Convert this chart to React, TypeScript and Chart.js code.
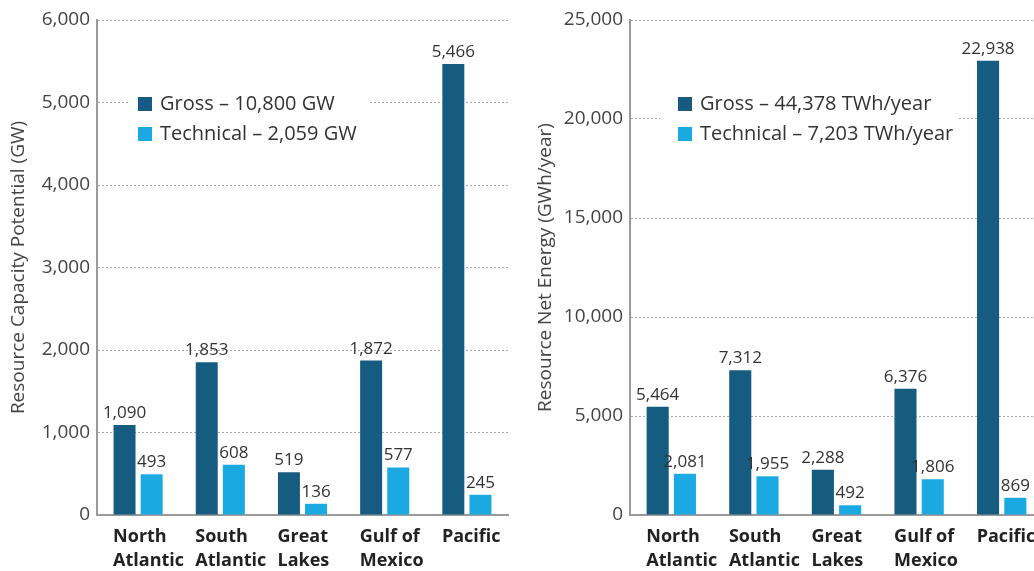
import React, { useEffect, useRef } from 'react';
import { Chart, registerables } from 'chart.js';

Chart.register(...registerables);

const FONT = '"Open Sans", "DejaVu Sans", sans-serif';

const categories: string[][] = [
  ['North', 'Atlantic'],
  ['South', 'Atlantic'],
  ['Great', 'Lakes'],
  ['Gulf of', 'Mexico'],
  ['Pacific'],
];

const capacityGross = [1090, 1853, 519, 1872, 5466];
const capacityTechnical = [493, 608, 136, 577, 245];
const capacityLegend = ['Gross \u2013 10,800 GW', 'Technical \u2013 2,059 GW'];
const capacityTitle = 'Resource Capacity Potential (GW)';
const capacityMax = 6000;
const capacityStep = 1000;

const energyGross = [5464, 7312, 2288, 6376, 22938];
const energyTechnical = [2081, 1955, 492, 1806, 869];
const energyLegend = ['Gross \u2013 44,378 TWh/year', 'Technical \u2013 7,203 TWh/year'];
const energyTitle = 'Resource Net Energy (GWh/year)';
const energyMax = 25000;
const energyStep = 5000;

const GROSS_COLOR = '#165b80';
const TECH_COLOR = '#1aa9e0';

const fmt = (v: number) => Number(v).toLocaleString('en-US');

const valueLabelPlugin = {
  id: 'valueLabels',
  afterDatasetsDraw(chart: any) {
    const ctx = chart.ctx;
    ctx.save();
    ctx.font = `17px ${FONT}`;
    ctx.fillStyle = '#333333';
    ctx.textAlign = 'center';
    ctx.textBaseline = 'alphabetic';
    chart.data.datasets.forEach((ds: any, i: number) => {
      const meta = chart.getDatasetMeta(i);
      meta.data.forEach((bar: any, j: number) => {
        ctx.fillText(fmt(ds.data[j]), bar.x, bar.y - 7);
      });
    });
    ctx.restore();
  },
};

const boxLegendPlugin = {
  id: 'boxLegend',
  beforeDatasetsDraw(chart: any, _args: any, opts: any) {
    const ctx = chart.ctx;
    ctx.save();
    ctx.fillStyle = '#ffffff';
    ctx.fillRect(opts.boxLeft, opts.boxTop, opts.boxRight - opts.boxLeft, opts.boxBottom - opts.boxTop);
    ctx.restore();
  },
  afterDatasetsDraw(chart: any, _args: any, opts: any) {
    const ctx = chart.ctx;
    ctx.save();
    ctx.font = `20px ${FONT}`;
    ctx.textBaseline = 'middle';
    ctx.textAlign = 'left';
    chart.data.datasets.forEach((ds: any, i: number) => {
      const cy = opts.y + i * opts.rowGap;
      ctx.fillStyle = ds.backgroundColor;
      ctx.fillRect(opts.x, cy - 7, 14, 14);
      ctx.fillStyle = '#333333';
      ctx.fillText(ds.label, opts.x + 22, cy);
    });
    ctx.restore();
  },
};

type ChartSpec = {
  gross: number[];
  technical: number[];
  legend: string[];
  title: string;
  max: number;
  step: number;
  axisWidth: number;
  titlePad: number;
  legendBox: any;
};

function buildConfig(spec: ChartSpec): any {
  return {
    type: 'bar',
    data: {
      labels: categories,
      datasets: [
        {
          label: spec.legend[0],
          data: spec.gross,
          backgroundColor: GROSS_COLOR,
          categoryPercentage: 0.66,
          barPercentage: 0.81,
        },
        {
          label: spec.legend[1],
          data: spec.technical,
          backgroundColor: TECH_COLOR,
          categoryPercentage: 0.66,
          barPercentage: 0.81,
        },
      ],
    },
    options: {
      responsive: false,
      animation: false,
      devicePixelRatio: 1,
      layout: { padding: { top: 20, right: 2, left: 0, bottom: 0 } },
      plugins: {
        legend: { display: false },
        tooltip: { enabled: false },
        boxLegend: spec.legendBox,
      },
      scales: {
        x: {
          grid: { display: false, drawTicks: false },
          border: { display: true, color: '#9a9a9a', width: 2 },
          ticks: {
            color: '#222222',
            font: { family: FONT, size: 18, weight: 'bold', lineHeight: 1.33 },
            padding: 10,
            maxRotation: 0,
            autoSkip: false,
            align: 'start',
            labelOffset: -25,
          },
          afterFit: (scale: any) => {
            scale.height = 56;
            scale.paddingLeft = 0;
            scale.paddingRight = 0;
          },
        },
        y: {
          min: 0,
          max: spec.max,
          grid: { color: '#a8a8a8', lineWidth: 1, drawTicks: false },
          border: { display: true, color: '#9a9a9a', width: 2, dash: [2, 2] },
          ticks: {
            stepSize: spec.step,
            color: '#444444',
            font: { family: FONT, size: 19 },
            padding: 7,
            callback: (v: any) => fmt(v),
          },
          title: {
            display: true,
            text: spec.title,
            color: '#444444',
            font: { family: FONT, size: 19 },
            padding: { top: spec.titlePad, bottom: 0 },
          },
          afterFit: (scale: any) => {
            scale.width = spec.axisWidth;
          },
        },
      },
    },
    plugins: [boxLegendPlugin, valueLabelPlugin],
  };
}

function BarChart({ spec, width, height, left }: { spec: ChartSpec; width: number; height: number; left: number }) {
  const ref = useRef<HTMLCanvasElement | null>(null);
  useEffect(() => {
    if (!ref.current) return;
    const chart = new Chart(ref.current, buildConfig(spec));
    return () => chart.destroy();
  }, []);
  return (
    <canvas
      ref={ref}
      width={width}
      height={height}
      style={{ position: 'absolute', left, top: 0, width, height }}
    />
  );
}

export default function App() {
  const capacitySpec: ChartSpec = {
    gross: capacityGross,
    technical: capacityTechnical,
    legend: capacityLegend,
    title: capacityTitle,
    max: capacityMax,
    step: capacityStep,
    axisWidth: 97,
    titlePad: 7,
    legendBox: { x: 138, y: 104, rowGap: 30, boxLeft: 128, boxRight: 368, boxTop: 85, boxBottom: 150 },
  };
  const energySpec: ChartSpec = {
    gross: energyGross,
    technical: energyTechnical,
    legend: energyLegend,
    title: energyTitle,
    max: energyMax,
    step: energyStep,
    axisWidth: 110,
    titlePad: 14,
    legendBox: { x: 158, y: 104, rowGap: 30, boxLeft: 140, boxRight: 437, boxTop: 85, boxBottom: 150 },
  };
  return (
    <div
      style={{
        position: 'fixed',
        left: 0,
        top: 0,
        width: 1034,
        height: 571,
        overflow: 'hidden',
        background: '#ffffff',
      }}
    >
      <BarChart spec={capacitySpec} width={510} height={571} left={0} />
      <BarChart spec={energySpec} width={525} height={571} left={520} />
    </div>
  );
}
